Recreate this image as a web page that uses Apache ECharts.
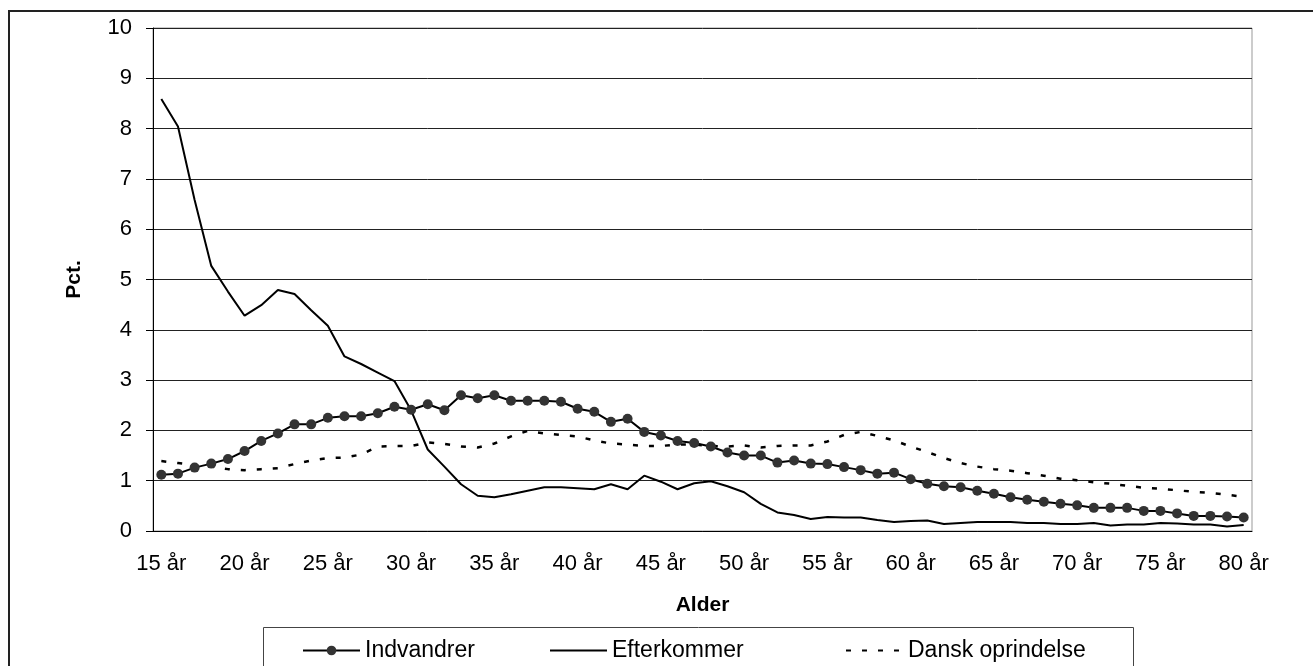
<!DOCTYPE html>
<html>
<head>
<meta charset="utf-8">
<script src="https://cdn.jsdelivr.net/npm/echarts@6/dist/echarts.min.js"></script>
<style>
  html, body { margin: 0; padding: 0; background: #fff; }
  #chart { width: 1313px; height: 666px; }
</style>
</head>
<body>
<div id="chart"></div>
<script>
  // alder 15..80 år
  const ages = [15, 16, 17, 18, 19, 20, 21, 22, 23, 24, 25, 26, 27, 28, 29, 30, 31, 32, 33, 34,
    35, 36, 37, 38, 39, 40, 41, 42, 43, 44, 45, 46, 47, 48, 49, 50, 51, 52, 53, 54,
    55, 56, 57, 58, 59, 60, 61, 62, 63, 64, 65, 66, 67, 68, 69, 70, 71, 72, 73, 74,
    75, 76, 77, 78, 79, 80]
  const categories = ages.map(a => a + ' år')

  const indvandrer = [1.12, 1.14, 1.26, 1.34, 1.43, 1.59, 1.79, 1.94, 2.12, 2.12,
    2.25, 2.28, 2.28, 2.34, 2.47, 2.41, 2.52, 2.40, 2.70, 2.64,
    2.70, 2.59, 2.59, 2.59, 2.57, 2.43, 2.37, 2.17, 2.23, 1.97,
    1.90, 1.79, 1.75, 1.68, 1.56, 1.50, 1.50, 1.36, 1.40, 1.34,
    1.33, 1.27, 1.21, 1.14, 1.16, 1.03, 0.94, 0.89, 0.87, 0.80,
    0.74, 0.67, 0.62, 0.58, 0.54, 0.51, 0.46, 0.46, 0.46, 0.40,
    0.40, 0.35, 0.30, 0.30, 0.29, 0.27]

  const efterkommer = [8.59, 8.04, 6.58, 5.27, 4.76, 4.28, 4.49, 4.79, 4.71, 4.39,
    4.08, 3.47, 3.32, 3.15, 2.98, 2.40, 1.62, 1.28, 0.93, 0.70,
    0.67, 0.73, 0.80, 0.87, 0.87, 0.85, 0.83, 0.93, 0.83, 1.10,
    0.98, 0.83, 0.95, 0.99, 0.89, 0.77, 0.54, 0.37, 0.32, 0.24,
    0.28, 0.27, 0.27, 0.22, 0.18, 0.20, 0.21, 0.14, 0.16, 0.18,
    0.18, 0.18, 0.16, 0.16, 0.14, 0.14, 0.16, 0.11, 0.13, 0.13,
    0.16, 0.15, 0.13, 0.13, 0.09, 0.12]

  const dansk = [1.39, 1.35, 1.31, 1.28, 1.23, 1.21, 1.23, 1.25, 1.33, 1.40,
    1.45, 1.46, 1.52, 1.68, 1.69, 1.69, 1.76, 1.73, 1.68, 1.66,
    1.74, 1.88, 1.99, 1.94, 1.91, 1.88, 1.80, 1.74, 1.72, 1.69,
    1.69, 1.72, 1.72, 1.69, 1.68, 1.70, 1.66, 1.69, 1.70, 1.70,
    1.78, 1.91, 1.97, 1.89, 1.80, 1.68, 1.57, 1.45, 1.35, 1.28,
    1.23, 1.20, 1.15, 1.10, 1.04, 1.01, 0.97, 0.94, 0.90, 0.86,
    0.84, 0.81, 0.78, 0.76, 0.72, 0.68]

  const font = '"Liberation Sans", Arial, sans-serif'

  // one legend per item, so each sits where it does in the original
  function legendAt (left, item) {
    return {
      left: left,
      top: 639,
      padding: 0,
      itemWidth: 57,
      itemHeight: 12,
      textStyle: { fontFamily: font, fontSize: 23, color: '#000' },
      data: [item]
    }
  }

  const chart = echarts.init(document.getElementById('chart'))
  const option = {
    animation: false,
    backgroundColor: '#fff',
    textStyle: { fontFamily: font, color: '#000' },
    graphic: [
      {
        type: 'rect',
        z: -10,
        shape: { x: 9, y: 11, width: 1400, height: 700 },
        style: { fill: 'none', stroke: '#222', lineWidth: 2 }
      },
      {
        type: 'rect',
        z: -10,
        shape: { x: 263.5, y: 627.5, width: 870, height: 80 },
        style: { fill: 'none', stroke: '#444', lineWidth: 1 }
      }
    ],
    grid: {
      left: 153,
      right: 61,
      top: 28,
      bottom: 135,
      show: true,
      borderColor: '#999',
      borderWidth: 1
    },
    legend: [
      legendAt(302, { name: 'Indvandrer', itemStyle: { color: '#333' } }),
      legendAt(549, { name: 'Efterkommer', itemStyle: { opacity: 0 } }),
      legendAt(845, { name: 'Dansk oprindelse', itemStyle: { opacity: 0 } })
    ],
    xAxis: {
      type: 'category',
      data: categories,
      boundaryGap: true,
      name: 'Alder',
      nameLocation: 'middle',
      nameGap: 64,
      nameTextStyle: { fontFamily: font, fontSize: 21, fontWeight: 'bold', color: '#000' },
      axisLine: { lineStyle: { color: '#000', width: 1 } },
      axisTick: { interval: 4, length: 7, lineStyle: { color: '#000' } },
      axisLabel: { interval: 4, margin: 22, fontSize: 22, color: '#000', fontFamily: font },
      splitLine: { show: false }
    },
    yAxis: {
      type: 'value',
      min: 0,
      max: 10,
      interval: 1,
      name: 'Pct.',
      nameLocation: 'middle',
      nameGap: 68,
      nameRotate: 90,
      nameTextStyle: { fontFamily: font, fontSize: 21, fontWeight: 'bold', color: '#000' },
      axisLine: { show: true, lineStyle: { color: '#000', width: 1 } },
      axisTick: { show: true, length: 7, lineStyle: { color: '#000' } },
      axisLabel: { margin: 21, fontSize: 22, color: '#000', fontFamily: font },
      splitLine: { lineStyle: { color: '#222', width: 1 } }
    },
    series: [
      {
        name: 'Indvandrer',
        type: 'line',
        data: indvandrer,
        symbol: 'circle',
        symbolSize: 10,
        itemStyle: { color: '#333' },
        lineStyle: { color: '#000', width: 2 },
        z: 3
      },
      {
        name: 'Efterkommer',
        type: 'line',
        data: efterkommer,
        symbol: 'none',
        itemStyle: { color: '#000' },
        lineStyle: { color: '#000', width: 2 }
      },
      {
        name: 'Dansk oprindelse',
        type: 'line',
        data: dansk,
        symbol: 'none',
        itemStyle: { color: '#000' },
        lineStyle: { color: '#000', width: 2.5, type: [5, 11] }
      }
    ]
  }
  chart.setOption(option)
</script>
</body>
</html>
